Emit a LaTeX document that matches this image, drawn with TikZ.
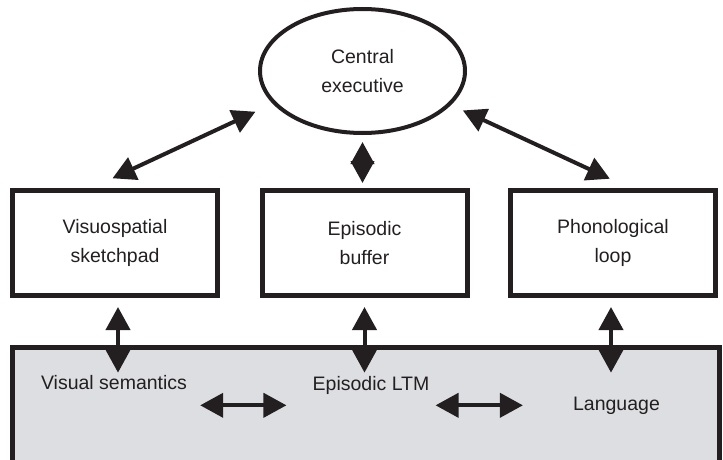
\documentclass[tikz,border=0pt]{standalone}
\usepackage{fontspec}
\setmainfont{Liberation Sans}
\usetikzlibrary{arrows.meta,shapes.geometric}
\definecolor{ltmgray}{RGB}{221,222,225}
\definecolor{inkgray}{RGB}{35,31,32}

\begin{document}
\begin{tikzpicture}[x=1pt,y=-1pt,
	every node/.style={text=inkgray,font=\fontsize{19.5}{28.5}\selectfont,align=center},
	store/.style={draw=inkgray,line width=5pt,rectangle,minimum width=205pt,minimum height=105pt,inner sep=0pt},
	exec/.style={draw=inkgray,line width=4pt,ellipse,minimum width=205pt,minimum height=124pt,inner sep=0pt},
	lbl/.style={anchor=base,inner sep=1pt},
	dbl/.style={draw=inkgray,line width=4pt,{Triangle[length=23pt,width=24pt]}-{Triangle[length=23pt,width=24pt]}},
	dblshort/.style={draw=inkgray,line width=4pt,{Triangle[length=22pt,width=23pt]}-{Triangle[length=22pt,width=23pt]}}]
	\useasboundingbox (0,0) rectangle (723,460);
	\draw[fill=ltmgray,draw=inkgray,line width=5pt] (12.5,347.5) rectangle (719.5,480);

	\node[exec] (ce) at (362.5,71) {Central\\executive};
	\node[store] (vss) at (115,243) {Visuospatial\\sketchpad};
	\node[store] (eb) at (364.5,243) {Episodic\\buffer};
	\node[store] (pl) at (613,243) {Phonological\\loop};

	\node[lbl] (vsem) at (114,389) {Visual semantics};
	\node[lbl] (eltm) at (371,390) {Episodic LTM};
	\node[lbl] (lang) at (616.5,410) {Language};

	\draw[dbl,shorten <=19pt,shorten >=23pt] (ce.200) -- (vss.113);
	\draw[dbl,shorten <=13pt,shorten >=22pt] (ce.339) -- (pl.73);
	\draw[dblshort,shorten <=7pt,shorten >=5pt] (ce.south) -- (ce.south |- eb.north);

	\draw[dbl,shorten <=9pt,shorten >=1pt] ([xshift=3pt]vss.south) -- ([xshift=3pt]vss.south |- vsem.north);
	\draw[dbl,shorten <=9pt,shorten >=1pt] (eb.south) -- (eb.south |- vsem.north);
	\draw[dbl,shorten <=9pt,shorten >=1pt] ([xshift=-2pt]pl.south) -- ([xshift=-2pt]pl.south |- vsem.north);

	\draw[dbl,shorten <=12pt,shorten >=25pt] (vsem.east |- lang.west) -- (eltm.west |- lang.west);
	\draw[dbl,shorten <=5pt,shorten >=49pt] (eltm.east |- lang.west) -- (lang.west);

\end{tikzpicture}
\end{document}
